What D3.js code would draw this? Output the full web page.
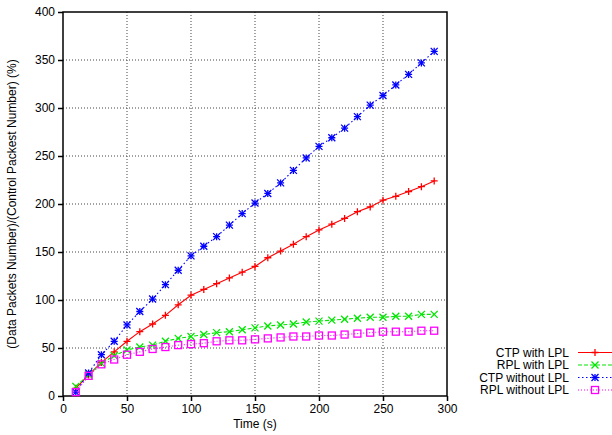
<!DOCTYPE html>
<html>
<head>
<meta charset="utf-8">
<script src="https://cdn.jsdelivr.net/npm/d3@7"></script>
<style>
  body { margin: 0; background: #fff; }
  svg text { font-family: "Liberation Sans", Arial, sans-serif; font-size: 12px; fill: #000; }
</style>
</head>
<body>
<div id="chart"></div>
<script>
// data
var times = [10,20,30,40,50,60,70,80,90,100,110,120,130,140,150,160,170,180,190,200,210,220,230,240,250,260,270,280,290];
var ctpLpl = [8,22,35,46,57,67,75,84,95,105,111,117,123,129,135,144,151,158,166,173,179,185,192,197,204,208,213,218,224];
var rplLpl = [10,22,34,42,48,51,53,57,60,62,64,66,67,69,71,73,74,75,77,78,79,80,81,82,82,83,83,85,85];
var ctpNo = [4,24,43,57,74,88,101,116,131,146,156,166,178,190,201,211,222,235,248,260,269,279,291,303,313,324,335,347,359];
var rplNo = [4,21,33,38,43,46,49,51,53,54,55,57,58,58,59,60,61,62,62,63,63,64,65,66,67,67,67,68,68];
var xTicks = [0,50,100,150,200,250,300];
var yTicks = [0,50,100,150,200,250,300,350,400];

var series = [
  {name: "CTP with LPL", values: ctpLpl, color: "#ff0000", dash: null, mark: "plus"},
  {name: "RPL with LPL", values: rplLpl, color: "#00e600", dash: "4,2", mark: "cross"},
  {name: "CTP without LPL", values: ctpNo, color: "#0000ff", dash: "1.5,2.5", mark: "star"},
  {name: "RPL without LPL", values: rplNo, color: "#ff00ff", dash: "1,2", mark: "square"}
];

var w = 612, h = 435;
var pLeft = 63, pRight = 447, pTop = 12, pBottom = 396;

var x = d3.scaleLinear().domain([0, 300]).range([pLeft, pRight]);
var y = d3.scaleLinear().domain([0, 400]).range([pBottom, pTop]);

var svg = d3.select("#chart").append("svg")
  .attr("width", w).attr("height", h);

// grid
svg.append("g").selectAll("line")
  .data(xTicks.slice(1, -1)).enter().append("line")
  .attr("x1", d => x(d)).attr("x2", d => x(d))
  .attr("y1", pTop).attr("y2", pBottom)
  .attr("stroke", "#444").attr("stroke-width", 1).attr("stroke-dasharray", "1,2");
svg.append("g").selectAll("line")
  .data(yTicks.slice(1, -1)).enter().append("line")
  .attr("x1", pLeft).attr("x2", pRight)
  .attr("y1", d => y(d)).attr("y2", d => y(d))
  .attr("stroke", "#444").attr("stroke-width", 1).attr("stroke-dasharray", "1,2");

// axes
var xAxis = d3.axisBottom(x).tickValues(xTicks).tickSize(5).tickPadding(3);
var yAxis = d3.axisLeft(y).tickValues(yTicks).tickSize(5).tickPadding(3);
var gx = svg.append("g").attr("transform", "translate(0," + pBottom + ")").call(xAxis);
var gy = svg.append("g").attr("transform", "translate(" + pLeft + ",0)").call(yAxis);
[gx, gy].forEach(g => {
  g.select(".domain").remove();
  g.selectAll("text").attr("font-size", 12).attr("font-family", "Liberation Sans, Arial, sans-serif").attr("fill", "#000");
  g.selectAll("line").attr("stroke", "#000").attr("stroke-width", 1.5);
});

// border
svg.append("rect")
  .attr("x", pLeft).attr("y", pTop)
  .attr("width", pRight - pLeft).attr("height", pBottom - pTop)
  .attr("fill", "none").attr("stroke", "#000").attr("stroke-width", 1.5);

// markers
function drawMark(g, mark, cx, cy, color) {
  var s = 3.5;
  if (mark === "plus" || mark === "star") {
    g.append("path").attr("d", "M" + (cx - s) + "," + cy + "H" + (cx + s) + "M" + cx + "," + (cy - s) + "V" + (cy + s))
      .attr("stroke", color).attr("stroke-width", 1.3).attr("fill", "none");
  }
  if (mark === "cross" || mark === "star") {
    g.append("path").attr("d", "M" + (cx - s) + "," + (cy - s) + "L" + (cx + s) + "," + (cy + s) + "M" + (cx - s) + "," + (cy + s) + "L" + (cx + s) + "," + (cy - s))
      .attr("stroke", color).attr("stroke-width", 1.3).attr("fill", "none");
  }
  if (mark === "square") {
    g.append("rect").attr("x", cx - s).attr("y", cy - s).attr("width", 2 * s).attr("height", 2 * s)
      .attr("stroke", color).attr("stroke-width", 1.3).attr("fill", "none");
  }
}

var line = d3.line().x((d, i) => x(times[i])).y(d => y(d));

series.forEach(s => {
  var g = svg.append("g");
  g.append("path").datum(s.values)
    .attr("d", line)
    .attr("fill", "none").attr("stroke", s.color).attr("stroke-width", 1.1)
    .attr("stroke-dasharray", s.dash);
  s.values.forEach((v, i) => drawMark(g, s.mark, x(times[i]), y(v), s.color));
});

// legend
var legY = [352.5, 365, 377.5, 390];
series.forEach((s, i) => {
  var g = svg.append("g");
  g.append("text").attr("x", 569).attr("y", legY[i]).attr("dy", "0.35em")
    .attr("text-anchor", "end").attr("font-size", 11.4).text(s.name);
  g.append("line").attr("x1", 578).attr("x2", 612).attr("y1", legY[i]).attr("y2", legY[i])
    .attr("stroke", s.color).attr("stroke-width", 1.1).attr("stroke-dasharray", s.dash);
  drawMark(g, s.mark, 595, legY[i], s.color);
});

// axis labels
svg.append("text").attr("x", (pLeft + pRight) / 2).attr("y", 428)
  .attr("text-anchor", "middle").text("Time (s)");
svg.append("text")
  .attr("transform", "translate(16," + ((pTop + pBottom) / 2) + ") rotate(-90)")
  .attr("text-anchor", "middle").text("(Data Packets Number)/(Control Packest Number) (%)");
</script>
</body>
</html>
